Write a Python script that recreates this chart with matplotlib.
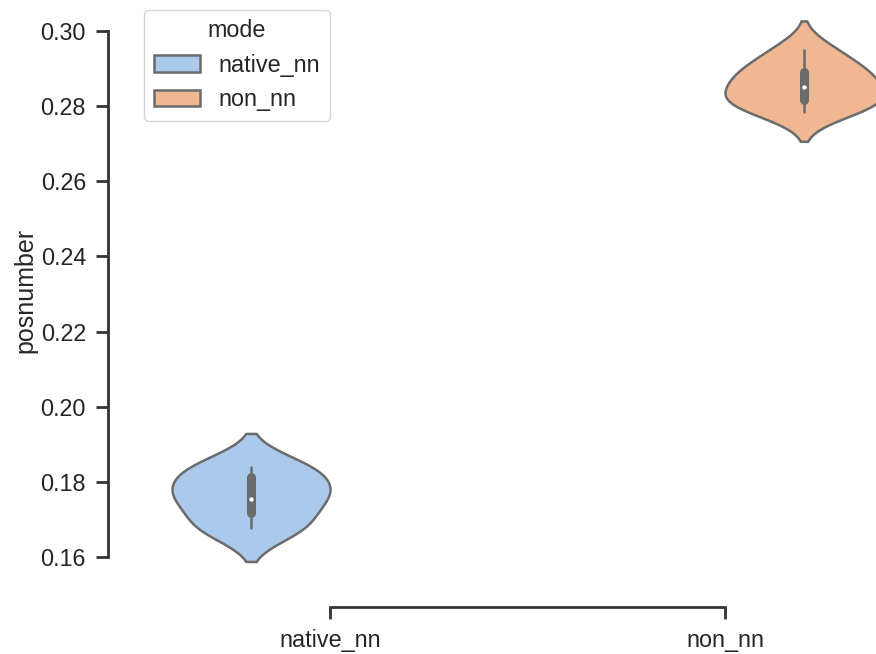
import matplotlib
matplotlib.use("Agg")
import matplotlib.pyplot as plt
import seaborn as sns
import pandas as pd

categories = ["native_nn", "non_nn"]
native_nn_values = [0.1677, 0.1682, 0.1754, 0.1754, 0.1790, 0.1834, 0.1840]
non_nn_values = [0.2784, 0.2810, 0.2822, 0.2851, 0.2882, 0.2900, 0.2949]
y_ticks = [0.16, 0.18, 0.20, 0.22, 0.24, 0.26, 0.28, 0.30]

df = pd.DataFrame({
    "mode": [categories[0]] * len(native_nn_values) + [categories[1]] * len(non_nn_values),
    "posnumber": native_nn_values + non_nn_values,
})

sns.set_theme(style="ticks")
plt.rcParams["font.family"] = ["Liberation Sans", "DejaVu Sans"]
plt.rcParams["axes.linewidth"] = 2.0
plt.rcParams["xtick.major.width"] = 2.0
plt.rcParams["ytick.major.width"] = 2.0
plt.rcParams["xtick.major.size"] = 8.5
plt.rcParams["ytick.major.size"] = 8.5
plt.rcParams["xtick.major.pad"] = 7
plt.rcParams["ytick.major.pad"] = 7
plt.rcParams["axes.edgecolor"] = "#333333"

fig = plt.figure(figsize=(8.76, 6.54), dpi=100)
ax = fig.add_axes([132.5 / 876, 72 / 654, 790 / 876, 584 / 654])

sns.violinplot(data=df, x="mode", y="posnumber", hue="mode", dodge=True,
               palette="pastel", linewidth=1.8, linecolor="#6b6b6b",
               order=categories, hue_order=categories, ax=ax, legend=True,
               inner_kws=dict(box_width=6.5, whis_width=1.8, marker="o",
                              markersize=3.2, markeredgewidth=0))

ax.set_ylim(0.15335, 0.30878)
ax.set_xlim(-0.5, 1.5)
ax.set_yticks(y_ticks)
ax.set_yticklabels([f"{v:.2f}" for v in y_ticks])
ax.set_xlabel("")
ax.set_ylabel("posnumber", fontsize=18, labelpad=2)
ax.tick_params(labelsize=16.8, colors="#333333", labelcolor="#262626")

leg = ax.legend(title="mode", loc="upper left", fontsize=16.8, title_fontsize=16.8,
                bbox_to_anchor=(0.0, 1.0))

sns.despine(ax=ax, offset=18, trim=True)

fig.savefig("out.png", dpi=100)
